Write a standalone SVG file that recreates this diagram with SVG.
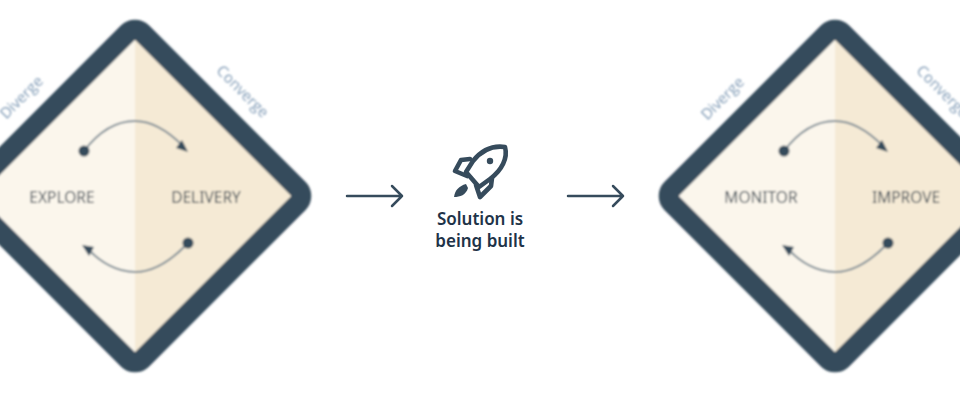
<svg xmlns="http://www.w3.org/2000/svg" width="960" height="400" viewBox="0 0 960 400">
<defs>
<style>
.frame{fill:none;stroke:#364b5c;stroke-width:20;stroke-linejoin:round}
.l{fill:#fbf6ec}.r{fill:#f5ead5}
.tag{font:15px "Open Sans","Liberation Sans",sans-serif;fill:#7f9ab5;text-anchor:middle}
.cap{font:15.5px "Noto Sans","Liberation Sans",sans-serif;fill:#3f4b55;text-anchor:middle}
.arc{fill:none;stroke:#7f8d96;stroke-width:2}
.dot{fill:#364b5c}
.flow{fill:none;stroke:#364b5c;stroke-width:2.5;stroke-linecap:round;stroke-linejoin:round}
.rk{fill:none;stroke:#364b5c;stroke-width:4.6;stroke-linejoin:round;stroke-linecap:round}
.title{font:600 17px "Noto Sans","Liberation Sans",sans-serif;fill:#1e3348;text-anchor:middle}
</style>
<filter id="blur" x="-10%" y="-10%" width="120%" height="120%"><feGaussianBlur stdDeviation="1.3"/></filter>
<g id="diamond">
<polygon class="l" points="0,-160 0,160 -160,0"/>
<polygon class="r" points="0,-160 0,160 160,0"/>
<rect class="frame" x="-120.5" y="-120.5" width="241" height="241" rx="10" transform="rotate(45)"/>
<path class="arc" d="M-51,-45C-35,-66 -17,-75 0,-75C18,-75 35,-63 48,-50"/>
<path class="arc" d="M53,47C35,66 17,76 0,76C-18,76 -35,66 -47,53"/>
<circle class="dot" cx="-51" cy="-45" r="5.5"/>
<circle class="dot" cx="53" cy="47" r="5.5"/>
<path class="dot" d="M53,-44L41,-48L47,-56Z"/>
<path class="dot" d="M-53,49L-41,51L-46,60Z"/>
</g>
</defs>
<rect width="960" height="400" fill="#fff"/>
<g id="explore-delivery" filter="url(#blur)">
<use href="#diamond" x="135" y="196"/>
<text class="tag" transform="translate(25,101) rotate(-45)">Diverge</text>
<text class="tag" transform="translate(239,95) rotate(45)">Converge</text>
<text class="cap" x="62" y="203">EXPLORE</text>
<text class="cap" x="206" y="203">DELIVERY</text>
</g>
<g id="solution">
<path class="rk" d="M505,147C491,145 481,151 473,161L466,172L479,187L490,179C502,170 508,158 505,147Z"/>
<path class="rk" d="M470,159L461,160L455,171L467,176M492,178L491,186L480,197L476,185"/>
<circle class="dot" cx="490" cy="161" r="3.2"/>
<path class="dot" d="M466,184C459,186 455,190 454,197C460,197 466,195 468,188Z"/>
<text class="title" x="480" y="224.500">Solution is</text>
<text class="title" x="480" y="246.500">being built</text>
</g>
<g id="monitor-improve" filter="url(#blur)">
<use href="#diamond" x="835" y="196"/>
<text class="tag" transform="translate(726,102) rotate(-45)">Diverge</text>
<text class="tag" transform="translate(939,95) rotate(45)">Converge</text>
<text class="cap" x="761" y="203">MONITOR</text>
<text class="cap" x="906" y="203">IMPROVE</text>
</g>
<g id="connectors">
<path class="flow" d="M347,196H402M392,186L402,196L392,206"/>
<path class="flow" d="M568,196H623M613,186L623,196L613,206"/>
</g>
</svg>
